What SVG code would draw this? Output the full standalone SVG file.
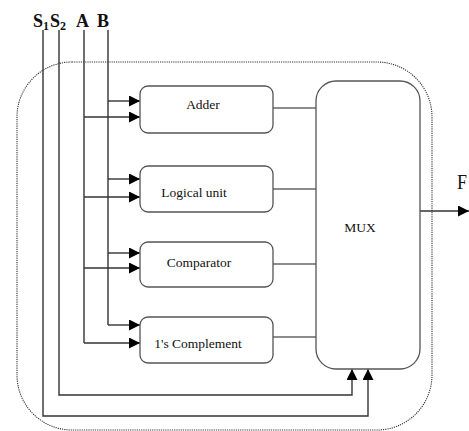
<svg xmlns="http://www.w3.org/2000/svg" width="469" height="431" viewBox="0 0 469 431">
<style>
.box{fill:#fff;stroke:#555;stroke-width:1.3}
.lbl{font-family:"Liberation Serif",serif;font-size:13.5px;fill:#111;text-anchor:middle}
.top{font-family:"Liberation Serif",serif;font-size:18px;font-weight:bold;fill:#111}
.sub{font-size:12px}
.w{fill:none;stroke:#333;stroke-width:1.4}
.g{fill:none;stroke:#666;stroke-width:1.3}
.border{fill:none;stroke:#333;stroke-width:1.1;stroke-dasharray:1.2 1}
</style>
<defs>
<marker id="ah" markerUnits="userSpaceOnUse" markerWidth="12" markerHeight="12" refX="11" refY="5.5" orient="auto">
<path d="M0,0 L11,5.5 L0,11 Z" fill="#000"/>
</marker>
</defs>
<rect class="border" x="17" y="62" width="415" height="368" rx="55"/>
<g id="labels">
<text class="top" x="33" y="27">S<tspan class="sub" dy="3">1</tspan></text>
<text class="top" x="50" y="27">S<tspan class="sub" dy="3">2</tspan></text>
<text class="top" x="76" y="27">A</text>
<text class="top" x="97" y="27">B</text>
<text x="457" y="189" font-family="Liberation Serif, serif" font-size="20" fill="#111" textLength="10" lengthAdjust="spacingAndGlyphs">F</text>
</g>
<g id="connectors">
<path class="w" d="M108,30 V325"/>
<path class="w" d="M84,30 V343"/>
<path class="w" d="M108,101 H140" marker-end="url(#ah)"/>
<path class="w" d="M84,117 H140" marker-end="url(#ah)"/>
<path class="w" d="M108,179 H140" marker-end="url(#ah)"/>
<path class="w" d="M84,197 H140" marker-end="url(#ah)"/>
<path class="w" d="M108,253 H140" marker-end="url(#ah)"/>
<path class="w" d="M84,268 H140" marker-end="url(#ah)"/>
<path class="w" d="M108,325 H140" marker-end="url(#ah)"/>
<path class="w" d="M84,343 H140" marker-end="url(#ah)"/>
<path class="w" d="M59,30 V395 H352 V369" marker-end="url(#ah)"/>
<path class="w" d="M43,30 V416 H368 V369" marker-end="url(#ah)"/>
<path class="g" d="M273,108 H316"/>
<path class="g" d="M273,189 H316"/>
<path class="g" d="M273,264 H316"/>
<path class="g" d="M273,337 H316"/>
<path class="w" d="M420,211 H469" marker-end="url(#ah)"/>
</g>
<g id="adder">
<rect class="box" x="140" y="86" width="133" height="47" rx="8"/>
<text class="lbl" x="203" y="109">Adder</text>
</g>
<g id="logical">
<rect class="box" x="140" y="166" width="133" height="46" rx="8"/>
<text class="lbl" x="194" y="197">Logical unit</text>
</g>
<g id="comparator">
<rect class="box" x="140" y="242" width="133" height="45" rx="8"/>
<text class="lbl" x="199" y="267">Comparator</text>
</g>
<g id="complement">
<rect class="box" x="140" y="317" width="133" height="46" rx="8"/>
<text class="lbl" x="198" y="348">1's Complement</text>
</g>
<g id="mux">
<rect class="box" x="316" y="81" width="104" height="288" rx="20"/>
<text class="lbl" x="360" y="232">MUX</text>
</g>
</svg>
